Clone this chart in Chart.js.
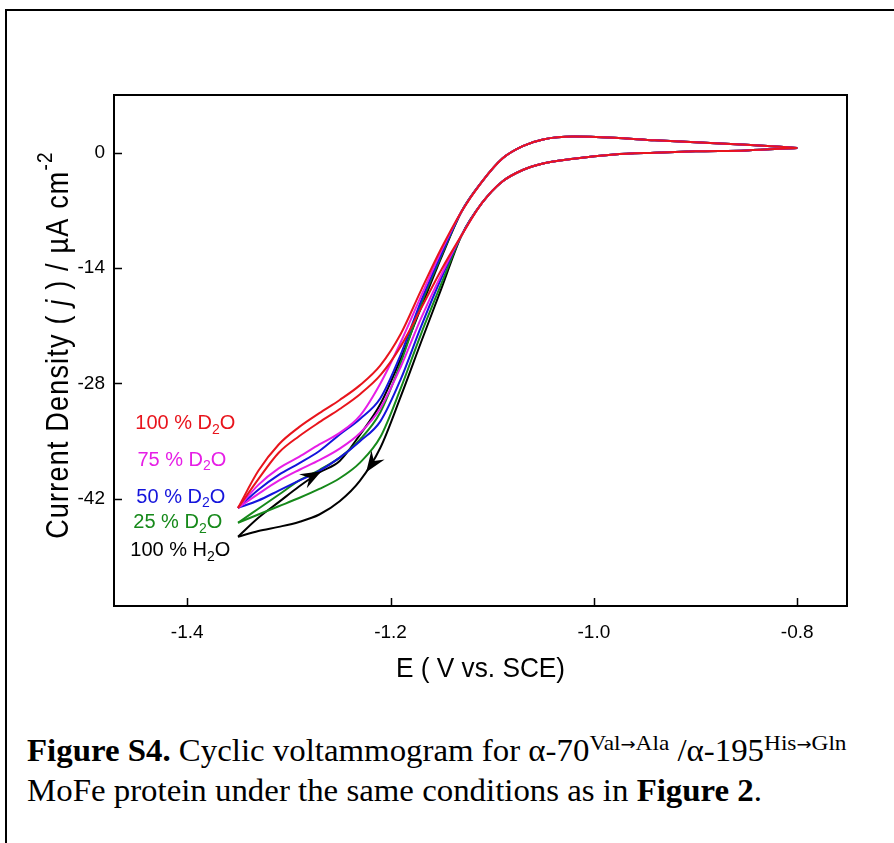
<!DOCTYPE html>
<html>
<head>
<meta charset="utf-8">
<script src="https://cdn.jsdelivr.net/npm/chart.js@4.4.0/dist/chart.umd.min.js"></script>
<style>
  html, body { margin: 0; padding: 0; background: #fff; overflow: hidden; }
  body { width: 894px; height: 843px; position: relative; }
  .frame {
    position: absolute; left: 5px; top: 9px; width: 1000px; height: 1000px;
    border-left: 2px solid #000; border-top: 2px solid #000;
  }
  #cv { position: absolute; left: 0; top: 0; }
  .caption {
    position: absolute; left: 27px; top: 731px;
    font-family: "Liberation Serif", "Times New Roman", serif;
    font-size: 31px; line-height: 40px; color: #000; white-space: nowrap;
    transform: scaleX(1.06); transform-origin: left top;
  }
  .caption sup { font-size: 22px; vertical-align: 11px; line-height: 0; }
  .caption .arr { font-family: "DejaVu Sans", sans-serif; font-size: 17px; }
</style>
</head>
<body>
<div class="frame"></div>
<canvas id="cv" width="894" height="700"></canvas>
<div class="caption"><b>Figure S4.</b> Cyclic voltammogram for α-70<sup>Val<span class="arr">→</span>Ala</sup> /α-195<sup>His<span class="arr">→</span>Gln</sup><br>MoFe protein under the same conditions as in <b>Figure 2</b>.</div>

<script>
/* ── potential grid (V vs. SCE), shared by every sweep ── */
const scanE = [-0.80, -0.85, -0.90, -0.94, -0.98, -1.02, -1.05, -1.07, -1.09, -1.11, -1.13,
               -1.15, -1.17, -1.19, -1.21, -1.23, -1.25, -1.27, -1.29, -1.31, -1.33, -1.35];

/* ── cathodic sweep (-0.8 → -1.35), µA cm-2 ── */
const fwdRed     = [0.57, 0.28, 0.17, 0.0, -0.22, -0.73, -1.3, -2.1, -3.5, -6.1, -10.0, -14.2, -18.9, -23.5, -27.0, -29.3, -31.1, -32.7, -34.4, -36.4, -39.6, -43.1];
const fwdMagenta = [0.57, 0.28, 0.17, 0.0, -0.22, -0.73, -1.3, -2.1, -3.5, -6.1, -10.0, -14.8, -20.1, -26.0, -31.0, -34.0, -35.9, -37.3, -38.5, -39.8, -41.4, -43.1];
const fwdBlue    = [0.57, 0.28, 0.17, 0.0, -0.22, -0.73, -1.3, -2.1, -3.5, -6.1, -10.0, -15.2, -21.1, -27.5, -32.6, -35.0, -37.0, -38.6, -39.8, -41.0, -42.2, -43.1];
const fwdGreen   = [0.57, 0.28, 0.17, 0.0, -0.22, -0.73, -1.3, -2.1, -3.5, -6.1, -10.0, -15.9, -22.0, -28.6, -34.5, -37.6, -39.5, -40.8, -41.9, -42.9, -43.9, -44.9];
const fwdBlack   = [0.57, 0.28, 0.17, 0.0, -0.22, -0.73, -1.3, -2.1, -3.5, -6.1, -10.0, -16.5, -23.0, -29.6, -35.8, -39.8, -42.3, -43.9, -44.8, -45.4, -45.9, -46.6];

/* ── anodic (return) sweep, same grid ── */
const retRed     = [0.57, 0.97, 1.27, 1.5, 1.8, 1.95, 1.6, 0.8, -0.7, -3.5, -7.1, -11.6, -16.7, -22.0, -25.8, -28.2, -30.0, -31.6, -33.3, -35.4, -38.6, -43.1];
const retMagenta = [0.57, 0.97, 1.27, 1.5, 1.8, 1.95, 1.6, 0.8, -0.7, -3.5, -7.1, -11.9, -17.4, -23.0, -28.0, -31.9, -34.0, -35.4, -36.9, -38.3, -40.3, -43.1];
const retBlue    = [0.57, 0.97, 1.27, 1.5, 1.8, 1.95, 1.6, 0.8, -0.7, -3.5, -7.1, -12.3, -18.0, -24.5, -29.8, -32.3, -34.2, -36.2, -37.7, -39.1, -40.9, -43.1];
const retGreen   = [0.57, 0.97, 1.27, 1.5, 1.8, 1.95, 1.6, 0.8, -0.7, -3.5, -7.1, -12.5, -18.4, -25.5, -31.5, -34.8, -37.0, -38.5, -39.8, -41.5, -43.2, -44.9];
const retBlack   = [0.57, 0.97, 1.27, 1.5, 1.8, 1.95, 1.6, 0.8, -0.7, -3.5, -7.1, -12.7, -18.8, -25.0, -30.5, -34.2, -37.4, -38.8, -40.5, -42.4, -44.3, -46.6];

const seriesNames  = ['100 % D', '75 % D', '50 % D', '25 % D', '100 % H'];
const seriesColors = ['#e8141c', '#e61ee6', '#1414dc', '#16891a', '#000000'];
const fwdSeries = [fwdRed, fwdMagenta, fwdBlue, fwdGreen, fwdBlack];
const retSeries = [retRed, retMagenta, retBlue, retGreen, retBlack];

/* label anchors (left edge, middle) in data units */
const labelE = [-1.451, -1.449, -1.450, -1.453, -1.456];
const labelJ = [-32.9, -37.3, -41.8, -44.9, -48.3];

const xTicks = [-1.4, -1.2, -1.0, -0.8];
const yTicks = [-42, -28, -14, 0];

const SANS = '"Liberation Sans", Arial, sans-serif';

/* ── build datasets: red on top, black at the bottom ── */
const datasets = [];
seriesNames.forEach((name, i) => {
  [fwdSeries[i], retSeries[i]].forEach((vals, k) => {
    datasets.push({
      label: name + (k ? ' return' : ' forward'),
      data: scanE.map((e, n) => ({ x: e, y: vals[n] })),
      borderColor: seriesColors[i],
      borderWidth: 2,
      pointRadius: 0,
      showLine: true,
      fill: false,
      cubicInterpolationMode: 'monotone',
    });
  });
});

/* ── cubic bezier helpers for placing the arrowheads on the drawn curve ── */
function bez(a, b, c, d, t) {
  const u = 1 - t;
  return u*u*u*a + 3*u*u*t*b + 3*u*t*t*c + t*t*t*d;
}
function dbez(a, b, c, d, t) {
  const u = 1 - t;
  return 3*u*u*(b - a) + 6*u*t*(c - b) + 3*t*t*(d - c);
}
function pointOnCurve(meta, px) {
  const pts = meta.data;
  for (let i = 0; i < pts.length - 1; i++) {
    const a = pts[i], b = pts[i + 1];
    if ((px - a.x) * (px - b.x) > 0) continue;
    const xs = [a.x, a.cp2x, b.cp1x, b.x], ys = [a.y, a.cp2y, b.cp1y, b.y];
    let lo = 0, hi = 1;
    for (let k = 0; k < 40; k++) {
      const t = (lo + hi) / 2;
      if ((bez(...xs, t) - px) * (b.x - a.x) < 0) lo = t; else hi = t;
    }
    const t = (lo + hi) / 2;
    return { x: bez(...xs, t), y: bez(...ys, t), dx: dbez(...xs, t), dy: dbez(...ys, t) };
  }
  return null;
}

function drawArrowHead(ctx, p, towardPositive) {
  const len = Math.hypot(p.dx, p.dy) || 1;
  let ux = p.dx / len, uy = p.dy / len;
  if ((ux > 0) !== towardPositive) { ux = -ux; uy = -uy; }
  const L = 21, W = 8, nx = -uy, ny = ux;
  ctx.beginPath();
  ctx.moveTo(p.x, p.y);
  ctx.lineTo(p.x - L*ux + W*nx, p.y - L*uy + W*ny);
  ctx.lineTo(p.x - 0.65*L*ux, p.y - 0.65*L*uy);
  ctx.lineTo(p.x - L*ux - W*nx, p.y - L*uy - W*ny);
  ctx.closePath();
  ctx.fill();
}

/* ── plot frame, inward ticks, titles, series labels, arrows ── */
const decorations = {
  id: 'decorations',
  afterDatasetsDraw(chart) {
    const { ctx, chartArea: a, scales: { x, y } } = chart;
    ctx.save();

    // arrows on the 100 % H2O loop
    ctx.fillStyle = '#000';
    const blackFwd = chart.getDatasetMeta(8), blackRet = chart.getDatasetMeta(9);
    const pR = pointOnCurve(blackRet, x.getPixelForValue(-1.268));
    if (pR) drawArrowHead(ctx, pR, true);
    const pF = pointOnCurve(blackFwd, x.getPixelForValue(-1.224));
    if (pF) drawArrowHead(ctx, pF, false);

    // frame
    ctx.strokeStyle = '#000';
    ctx.lineWidth = 2;
    ctx.strokeRect(a.left, a.top, a.right - a.left, a.bottom - a.top);

    // inward ticks
    ctx.lineWidth = 1.5;
    ctx.beginPath();
    xTicks.forEach(v => {
      const px = Math.round(x.getPixelForValue(v)) + 0.5;
      ctx.moveTo(px, a.bottom); ctx.lineTo(px, a.bottom - 8);
    });
    yTicks.forEach(v => {
      const py = Math.round(y.getPixelForValue(v)) + 0.5;
      ctx.moveTo(a.left, py); ctx.lineTo(a.left + 8, py);
    });
    ctx.stroke();

    // series labels with subscript 2
    ctx.textBaseline = 'middle';
    ctx.textAlign = 'left';
    seriesNames.forEach((name, i) => {
      let px = x.getPixelForValue(labelE[i]);
      const py = y.getPixelForValue(labelJ[i]);
      ctx.fillStyle = seriesColors[i];
      ctx.font = '20px ' + SANS;
      ctx.fillText(name, px, py);
      px += ctx.measureText(name).width;
      ctx.font = '14px ' + SANS;
      ctx.fillText('2', px, py + 6);
      px += ctx.measureText('2').width;
      ctx.font = '20px ' + SANS;
      ctx.fillText('O', px, py);
    });

    // x title
    ctx.fillStyle = '#000';
    ctx.save();
    ctx.translate((a.left + a.right) / 2, 669);
    ctx.scale(1.05, 1.1);
    ctx.font = '25px ' + SANS;
    ctx.textAlign = 'center';
    ctx.fillText('E ( V vs. SCE)', 0, 0);
    ctx.restore();

    // y title, rotated, with italic j and superscript -2
    const parts = [
      { t: 'Current Density ( ', f: '27px ' + SANS, dy: 0 },
      { t: 'j', f: 'italic 27px ' + SANS, dy: 0 },
      { t: ' ) / \u00B5A cm', f: '27px ' + SANS, dy: 0 },
      { t: '-2', f: '19px ' + SANS, dy: -11 },
    ];
    ctx.translate(59, 345);
    ctx.rotate(-Math.PI / 2);
    ctx.scale(1, 1.15);
    ctx.textAlign = 'left';
    if ('letterSpacing' in ctx) ctx.letterSpacing = '1.2px';
    let total = 0;
    parts.forEach(p => { ctx.font = p.f; p.w = ctx.measureText(p.t).width; total += p.w; });
    let cx = -total / 2;
    parts.forEach(p => { ctx.font = p.f; ctx.fillText(p.t, cx, p.dy); cx += p.w; });

    ctx.restore();
  },
};

new Chart(document.getElementById('cv'), {
  type: 'scatter',
  data: { datasets },
  options: {
    responsive: false,
    animation: false,
    events: [],
    layout: { padding: { top: 95, right: 47, bottom: 0, left: 0 } },
    plugins: { legend: { display: false }, tooltip: { enabled: false } },
    scales: {
      x: {
        type: 'linear',
        min: -1.472,
        max: -0.751,
        afterBuildTicks: s => { s.ticks = xTicks.map(v => ({ value: v })); },
        afterFit: s => { s.height = 94; },
        grid: { display: false, drawTicks: false },
        border: { display: false },
        ticks: {
          color: '#000',
          font: { size: 19, family: SANS },
          padding: 15,
          maxRotation: 0,
          autoSkip: false,
          callback: v => v.toFixed(1),
        },
      },
      y: {
        type: 'linear',
        min: -55,
        max: 7,
        afterBuildTicks: s => { s.ticks = yTicks.map(v => ({ value: v })); },
        afterFit: s => { s.width = 114; },
        grid: { display: false, drawTicks: false },
        border: { display: false },
        ticks: {
          color: '#000',
          font: { size: 19, family: SANS },
          padding: 9,
          autoSkip: false,
          callback: v => String(v),
        },
      },
    },
  },
  plugins: [decorations],
});
</script>
</body>
</html>
